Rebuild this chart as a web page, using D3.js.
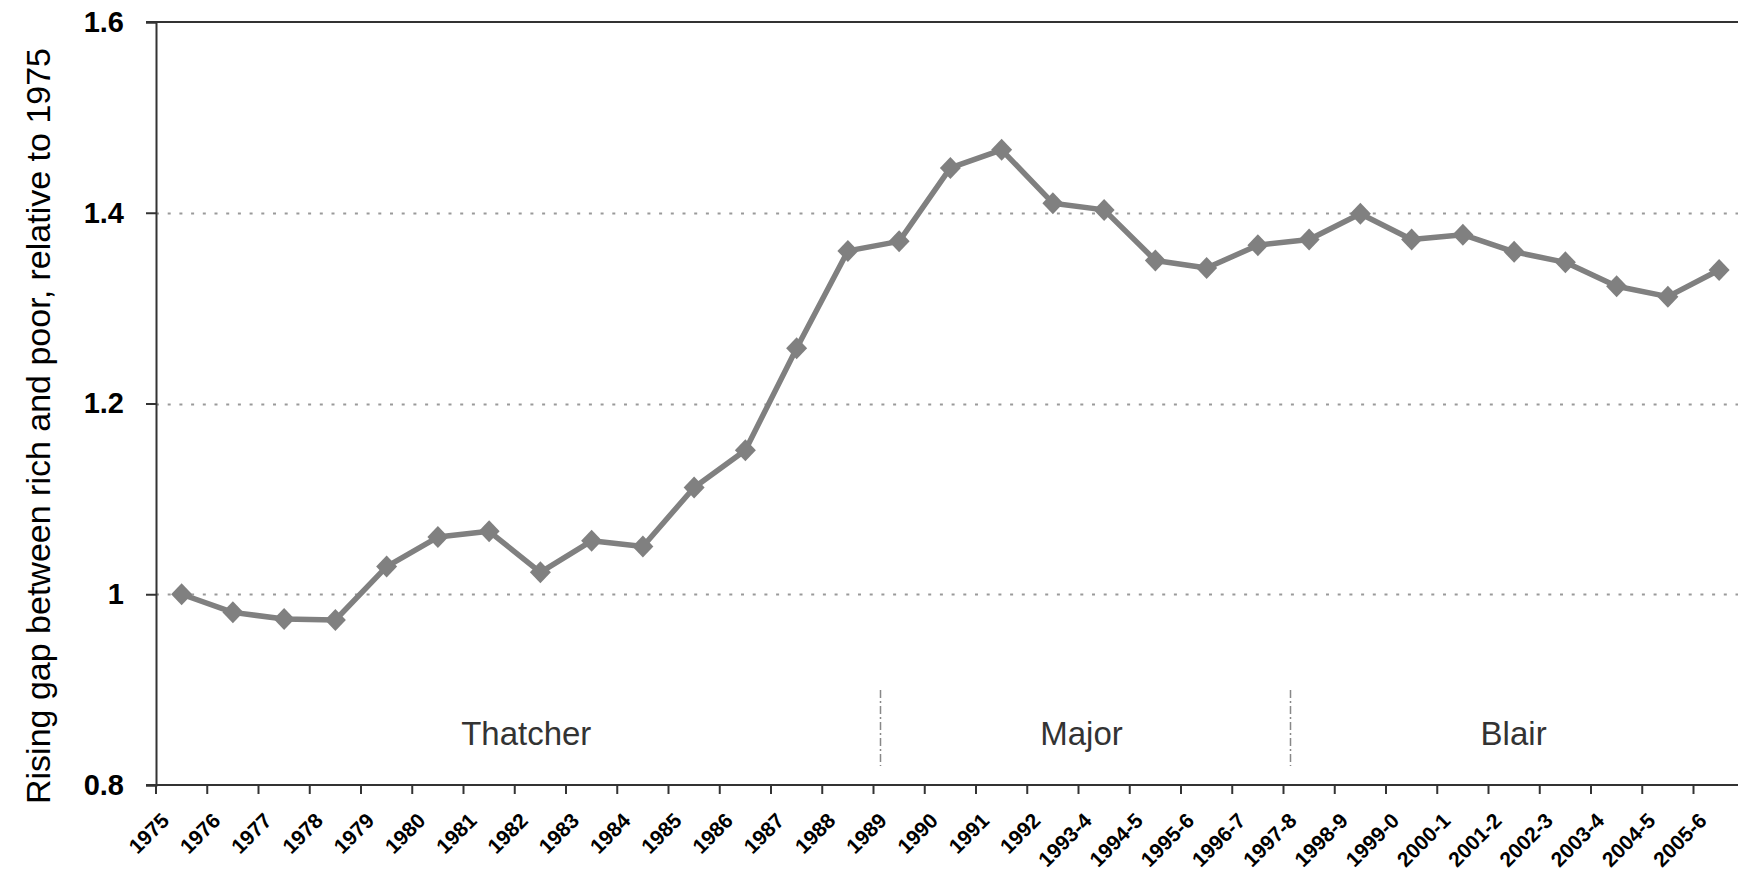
<!DOCTYPE html>
<html>
<head>
<meta charset="utf-8">
<script src="https://cdn.jsdelivr.net/npm/d3@7"></script>
<style>
  body { margin: 0; background: #fff; }
  svg { display: block; font-family: Arial, "Liberation Sans", sans-serif; }
</style>
</head>
<body>
<svg id="chart" width="1738" height="873"></svg>
<script>
'use strict';

// Years / financial years on the category axis.
var categories = [
    '1975', '1976', '1977', '1978', '1979', '1980', '1981', '1982', '1983',
    '1984', '1985', '1986', '1987', '1988', '1989', '1990', '1991', '1992',
    '1993-4', '1994-5', '1995-6', '1996-7', '1997-8', '1998-9', '1999-0',
    '2000-1', '2001-2', '2002-3', '2003-4', '2004-5', '2005-6'
];

// Gap between rich and poor, relative to 1975.
var gapValues = [
    1.000, 0.981, 0.974, 0.973, 1.029, 1.060, 1.066, 1.023, 1.056,
    1.050, 1.112, 1.151, 1.258, 1.360, 1.370, 1.447, 1.466, 1.410,
    1.403, 1.350, 1.342, 1.366, 1.372, 1.399, 1.372,
    1.377, 1.359, 1.348, 1.323, 1.312, 1.340
];

var yTickValues = [0.8, 1.0, 1.2, 1.4, 1.6];
var yTickLabels = ['0.8', '1', '1.2', '1.4', '1.6'];

// Prime ministers and the first category of each term.
var eraNames = ['Thatcher', 'Major', 'Blair'];
var eraStarts = ['1975', '1989', '1997-8'];

var yTitle = 'Rising gap between rich and poor, relative to 1975';

var svg = d3.select('#chart');
var plot = {left: 156, top: 22, bottom: 785, step: 51.25};
plot.right = plot.left + plot.step * categories.length;

var x = d3.scaleBand()
    .domain(categories)
    .range([plot.left, plot.right])
    .padding(0);

var y = d3.scaleLinear()
    .domain([0.8, 1.6])
    .range([plot.bottom, plot.top]);

var center = function(c) { return x(c) + x.bandwidth() / 2; };

// Dotted gridlines.
svg.append('g')
    .selectAll('line')
    .data(yTickValues.slice(1, -1))
    .join('line')
    .attr('x1', plot.left)
    .attr('x2', plot.right)
    .attr('y1', function(d) { return Math.round(y(d)) + 0.5; })
    .attr('y2', function(d) { return Math.round(y(d)) + 0.5; })
    .attr('stroke', '#9a9a9a')
    .attr('stroke-width', 2)
    .attr('stroke-dasharray', '3,8.7');

// Top border of the plot area.
svg.append('line')
    .attr('x1', plot.left - 10)
    .attr('x2', plot.right)
    .attr('y1', y(1.6))
    .attr('y2', y(1.6))
    .attr('stroke', '#333')
    .attr('stroke-width', 2);

// Y axis.
var yAxis = svg.append('g')
    .attr('transform', 'translate(' + plot.left + ',0)')
    .call(d3.axisLeft(y)
        .tickValues(yTickValues)
        .tickFormat(function(d, i) { return yTickLabels[i]; })
        .tickSize(10)
        .tickPadding(22));
yAxis.select('.domain').attr('stroke', '#333').attr('stroke-width', 2);
yAxis.selectAll('.tick line').attr('stroke', '#333').attr('stroke-width', 2);
yAxis.selectAll('.tick text')
    .attr('fill', '#000')
    .style('font-size', '29px')
    .style('font-weight', 'bold');

// X axis: line plus ticks on the category boundaries.
var xAxis = svg.append('g');
xAxis.append('line')
    .attr('x1', plot.left - 10)
    .attr('x2', plot.right)
    .attr('y1', plot.bottom)
    .attr('y2', plot.bottom)
    .attr('stroke', '#333')
    .attr('stroke-width', 2);
xAxis.selectAll('line.tick')
    .data(categories)
    .join('line')
    .attr('class', 'tick')
    .attr('x1', function(d) { return x(d); })
    .attr('x2', function(d) { return x(d); })
    .attr('y1', plot.bottom)
    .attr('y2', plot.bottom + 9)
    .attr('stroke', '#333')
    .attr('stroke-width', 2);
xAxis.selectAll('text')
    .data(categories)
    .join('text')
    .attr('transform', function(d) {
        return 'translate(' + (center(d) - 11) + ',' + (plot.bottom + 37) + ') rotate(-45)';
    })
    .attr('text-anchor', 'end')
    .style('font-size', '21px')
    .style('font-weight', 'bold')
    .text(function(d) { return d; });

// Y axis title.
svg.append('text')
    .attr('transform', 'translate(38,426) rotate(-90)')
    .attr('text-anchor', 'middle')
    .attr('dy', '0.35em')
    .style('font-size', '34px')
    .text(yTitle);

// Era dividers and labels.
var eraBounds = eraStarts.map(function(c, i) {
    return i === 0 ? plot.left : x(c) + 7;
});
eraBounds.push(plot.right);

svg.append('g')
    .selectAll('line')
    .data(eraBounds.slice(1, -1))
    .join('line')
    .attr('x1', function(d) { return d; })
    .attr('x2', function(d) { return d; })
    .attr('y1', 690)
    .attr('y2', 766)
    .attr('stroke', '#888')
    .attr('stroke-width', 1.5)
    .attr('stroke-dasharray', '8,3,2,3');

svg.append('g')
    .selectAll('text')
    .data(eraNames)
    .join('text')
    .attr('x', function(d, i) { return (eraBounds[i] + eraBounds[i + 1]) / 2 + (i === 0 ? 8 : -4); })
    .attr('y', 745)
    .attr('text-anchor', 'middle')
    .attr('fill', '#333')
    .style('font-size', '33px')
    .text(function(d) { return d; });

// The series line and diamond markers.
var points = categories.map(function(c, i) { return {cat: c, value: gapValues[i]}; });

svg.append('path')
    .datum(points)
    .attr('fill', 'none')
    .attr('stroke', '#808080')
    .attr('stroke-width', 5.5)
    .attr('stroke-linejoin', 'round')
    .attr('d', d3.line()
        .x(function(d) { return center(d.cat); })
        .y(function(d) { return y(d.value); }));

svg.append('g')
    .selectAll('path')
    .data(points)
    .join('path')
    .attr('transform', function(d) {
        return 'translate(' + center(d.cat) + ',' + y(d.value) + ')';
    })
    .attr('d', 'M0,-11L10.5,0L0,11L-10.5,0Z')
    .attr('fill', '#808080');
</script>
</body>
</html>
